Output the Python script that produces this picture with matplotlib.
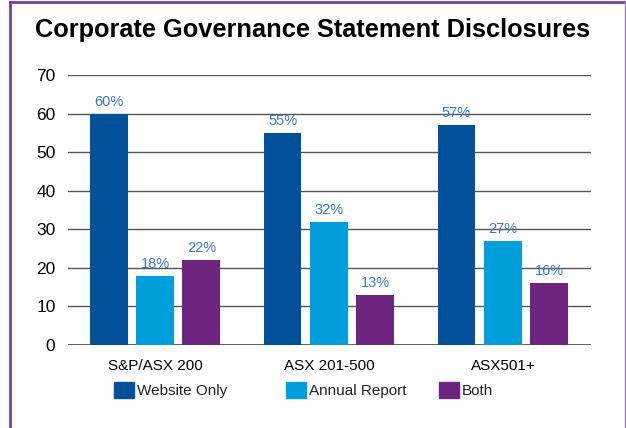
import matplotlib.pyplot as plt
from matplotlib.patches import Rectangle
from matplotlib.lines import Line2D
import numpy as np

groups = ['S&P/ASX 200', 'ASX 201-500', 'ASX501+']
series = ['Website Only', 'Annual Report', 'Both']
website_only = [60, 55, 57]
annual_report = [18, 32, 27]
both = [22, 13, 16]
colors = ['#00509a', '#009fdc', '#6d2580']
yticks = [0, 10, 20, 30, 40, 50, 60, 70]

W, H = 626, 428
fig = plt.figure(figsize=(W / 100, H / 100), dpi=100)
fig.patch.set_facecolor('white')

plt.rcParams['font.family'] = ['Liberation Sans', 'DejaVu Sans']


def px(x0, y0, x1, y1):
    # pixel box (top-left origin) -> figure fraction rect
    return [x0 / W, 1 - y1 / H, (x1 - x0) / W, (y1 - y0) / H]


ax = fig.add_axes(px(68, 75, 591, 345))
ax.set_xlim(-0.5, 2.506)
ax.set_ylim(0, 70)

x = np.arange(len(groups))
width = 0.218
offset = 0.267
values = [website_only, annual_report, both]
for i, vals in enumerate(values):
    pos = x + (i - 1) * offset
    bars = ax.bar(pos, vals, width, color=colors[i], zorder=3)
    for b, v in zip(bars, vals):
        ax.text(b.get_x() + b.get_width() / 2, v + 1.3, f'{v}%',
                ha='center', va='bottom', fontsize=10.5, color='#3a78c3', zorder=4)

for y in yticks:
    ax.axhline(y, color='#555555', linewidth=1.3 if y == 0 else 1.0, zorder=1)

for s in ax.spines.values():
    s.set_visible(False)
ax.set_yticks(yticks)
ax.set_yticklabels([str(t) for t in yticks], fontsize=12.5)
ax.tick_params(axis='y', length=0, pad=9)
ax.set_xticks(x)
ax.set_xticklabels(groups, fontsize=11)
ax.tick_params(axis='x', length=0, pad=10)

# title
fig.text(35 / W, 1 - 30 / H, 'Corporate Governance Statement Disclosures',
         ha='left', va='center', fontsize=18.3, weight='bold')

# legend
leg_x = [114, 286, 439]
for lx, c, name in zip(leg_x, colors, series):
    fig.patches.append(Rectangle((lx / W, 1 - 398 / H), 20 / W, 16 / H,
                                 transform=fig.transFigure, color=c))
    fig.text((lx + 23) / W, 1 - 391 / H, name, ha='left', va='center',
             fontsize=11, color='#222222')

# purple frame (left, top, right)
frame = '#7b3f98'
fig.lines.append(Line2D([9.5 / W, 9.5 / W], [0, 1 - 2 / H], transform=fig.transFigure,
                        color=frame, linewidth=2))
fig.lines.append(Line2D([9.5 / W, 625 / W], [1 - 2 / H, 1 - 2 / H], transform=fig.transFigure,
                        color=frame, linewidth=2))
fig.lines.append(Line2D([625 / W, 625 / W], [0, 1 - 2 / H], transform=fig.transFigure,
                        color='#a07bbf', linewidth=1))

fig.savefig('out.png', dpi=100, facecolor='white')
